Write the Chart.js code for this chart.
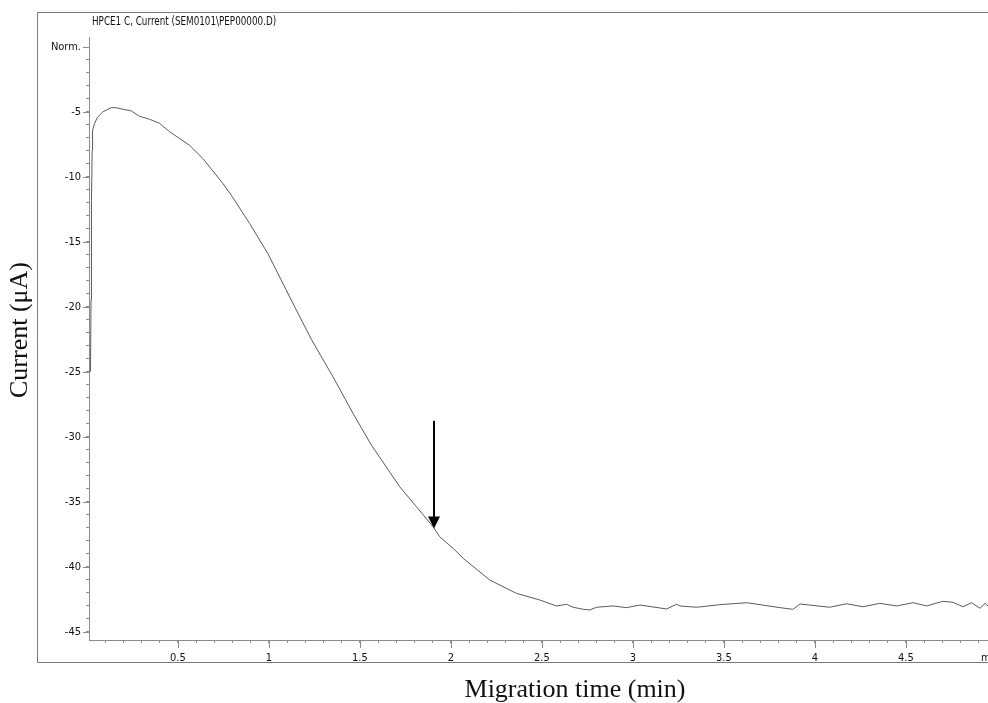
<!DOCTYPE html>
<html>
<head>
<meta charset="utf-8">
<script src="https://cdn.jsdelivr.net/npm/chart.js@4.4.1/dist/chart.umd.min.js"></script>
<style>
  html, body { margin: 0; padding: 0; background: #fff; }
  #wrap { width: 988px; height: 703px; position: relative; }
</style>
</head>
<body>
<div id="wrap"><canvas id="grafico"></canvas></div>
<script>
const tiempo = [0.0198, 0.0225, 0.025, 0.029, 0.031, 0.042, 0.058, 0.087, 0.134, 0.163,
  0.197, 0.244, 0.289, 0.344, 0.399, 0.454, 0.564, 0.637, 0.747, 0.793,
  0.894, 0.994, 1.077, 1.151, 1.233, 1.352, 1.462, 1.563, 1.719, 1.902,
  1.938, 2.012, 2.067, 2.213, 2.360, 2.488, 2.580, 2.636, 2.671, 2.729,
  2.763, 2.800, 2.891, 2.965, 3.038, 3.185, 3.240, 3.258, 3.350, 3.478,
  3.625, 3.808, 3.879, 3.918, 4.081, 4.174, 4.264, 4.357, 4.449, 4.539,
  4.614, 4.703, 4.758, 4.813, 4.861, 4.907, 4.935, 4.951];
const corriente = [-25.0, -19.5, -11.8, -7.95, -6.4, -5.9, -5.4, -5.0, -4.66, -4.68,
  -4.79, -4.92, -5.33, -5.56, -5.87, -6.52, -7.56, -8.58, -10.5, -11.4,
  -13.58, -15.89, -18.2, -20.25, -22.5, -25.38, -28.2, -30.64, -33.85, -36.92,
  -37.69, -38.58, -39.35, -41.02, -42.05, -42.56, -43.02, -42.89, -43.12, -43.28,
  -43.33, -43.12, -43.02, -43.15, -42.95, -43.25, -42.89, -43.02, -43.12, -42.92,
  -42.77, -43.15, -43.28, -42.87, -43.12, -42.85, -43.08, -42.82, -43.02, -42.77,
  -43.02, -42.66, -42.74, -43.08, -42.77, -43.2, -42.82, -43.02];

// etiquetas de los ejes
const marcasX = [0.5, 1, 1.5, 2, 2.5, 3, 3.5, 4, 4.5];
const marcasY = [0, -5, -10, -15, -20, -25, -30, -35, -40, -45];
const etiquetaCero = 'Norm.';

// flecha: tiempo y corriente donde empieza y termina
const flechaTiempo = 1.907;
const flechaDesde = -28.77;
const flechaHasta = -37.05;

const fuenteEje = "'Liberation Sans Narrow', 'Arial Narrow', 'DejaVu Sans Condensed', sans-serif";
const fuenteTitulo = "'Liberation Serif', 'Times New Roman', serif";

function buscaMarca(v, lista) {
  return lista.find(m => Math.abs(m - v) < 1e-6);
}

// dibuja marco, marcas largas, textos y la flecha
const extras = {
  id: 'extras',
  afterDraw(chart) {
    const { ctx, chartArea: a, scales: { x, y } } = chart;
    ctx.save();

    ctx.strokeStyle = '#7a7a7a';
    ctx.lineWidth = 1;
    ctx.beginPath();
    ctx.moveTo(988, 12.5);
    ctx.lineTo(37.5, 12.5);
    ctx.lineTo(37.5, 662.5);
    ctx.lineTo(988, 662.5);
    ctx.stroke();

    // marcas mayores
    ctx.strokeStyle = '#8c8c8c';
    ctx.beginPath();
    marcasX.forEach(v => {
      const px = Math.round(x.getPixelForValue(v)) + 0.5;
      ctx.moveTo(px, a.bottom);
      ctx.lineTo(px, a.bottom + 8);
    });
    marcasY.forEach(v => {
      const py = Math.round(y.getPixelForValue(v)) + 0.5;
      ctx.moveTo(a.left - 6, py);
      ctx.lineTo(a.left, py);
    });
    ctx.stroke();

    ctx.fillStyle = '#111';
    ctx.textBaseline = 'middle';
    ctx.textAlign = 'left';
    // encabezado estrecho como en el original
    ctx.save();
    ctx.translate(92, 22);
    ctx.scale(0.85, 1);
    ctx.font = '11.5px ' + fuenteEje;
    ctx.fillText('HPCE1 C, Current (SEM0101\\PEP00000.D)', 0, 0);
    ctx.restore();
    ctx.font = '11px ' + fuenteEje;
    ctx.fillText('min', 981, 658);

    ctx.font = '26px ' + fuenteTitulo;
    ctx.textAlign = 'center';
    ctx.fillText('Migration time (min)', 575, 690);
    ctx.save();
    ctx.translate(20, 330);
    ctx.rotate(-Math.PI / 2);
    ctx.fillText('Current (\u03bcA)', 0, 0);
    ctx.restore();

    // flecha
    const fx = x.getPixelForValue(flechaTiempo);
    const fy1 = y.getPixelForValue(flechaDesde);
    const fy2 = y.getPixelForValue(flechaHasta);
    ctx.strokeStyle = '#000';
    ctx.fillStyle = '#000';
    ctx.lineWidth = 2;
    ctx.beginPath();
    ctx.moveTo(fx, fy1);
    ctx.lineTo(fx, fy2 - 10);
    ctx.stroke();
    ctx.beginPath();
    ctx.moveTo(fx - 6, fy2 - 12);
    ctx.lineTo(fx + 6, fy2 - 12);
    ctx.lineTo(fx, fy2);
    ctx.closePath();
    ctx.fill();

    ctx.restore();
  }
};

const puntos = tiempo.map((t, i) => ({ x: t, y: corriente[i] }));

new Chart(document.getElementById('grafico'), {
  type: 'line',
  data: {
    datasets: [{
      data: puntos,
      borderColor: '#5a5a5a',
      borderWidth: 1,
      pointRadius: 0,
      tension: 0
    }]
  },
  options: {
    responsive: true,
    maintainAspectRatio: false,
    animation: false,
    layout: { padding: { top: 37, right: 0, bottom: 0, left: 0 } },
    plugins: { legend: { display: false }, tooltip: { enabled: false } },
    scales: {
      x: {
        type: 'linear',
        min: 0.0115,
        max: 4.951,
        afterFit: s => { s.height = 63; },
        border: { color: '#8c8c8c' },
        grid: { drawOnChartArea: false, tickLength: 3, color: '#8c8c8c' },
        ticks: {
          stepSize: 0.1,
          autoSkip: false,
          maxRotation: 0,
          includeBounds: false,
          padding: 9,
          color: '#111',
          font: { family: fuenteEje, size: 11 },
          callback: v => {
            const m = buscaMarca(v, marcasX);
            return m === undefined ? '' : String(m);
          }
        }
      },
      y: {
        min: -45.64,
        max: 0.77,
        afterFit: s => { s.width = 89; },
        border: { color: '#8c8c8c' },
        grid: { drawOnChartArea: false, tickLength: 3, color: '#8c8c8c' },
        ticks: {
          stepSize: 1,
          autoSkip: false,
          includeBounds: false,
          padding: 5,
          color: '#111',
          font: { family: fuenteEje, size: 11 },
          callback: v => {
            const m = buscaMarca(v, marcasY);
            if (m === undefined) return '';
            return m === 0 ? etiquetaCero : String(m);
          }
        }
      }
    }
  },
  plugins: [extras]
});
</script>
</body>
</html>
